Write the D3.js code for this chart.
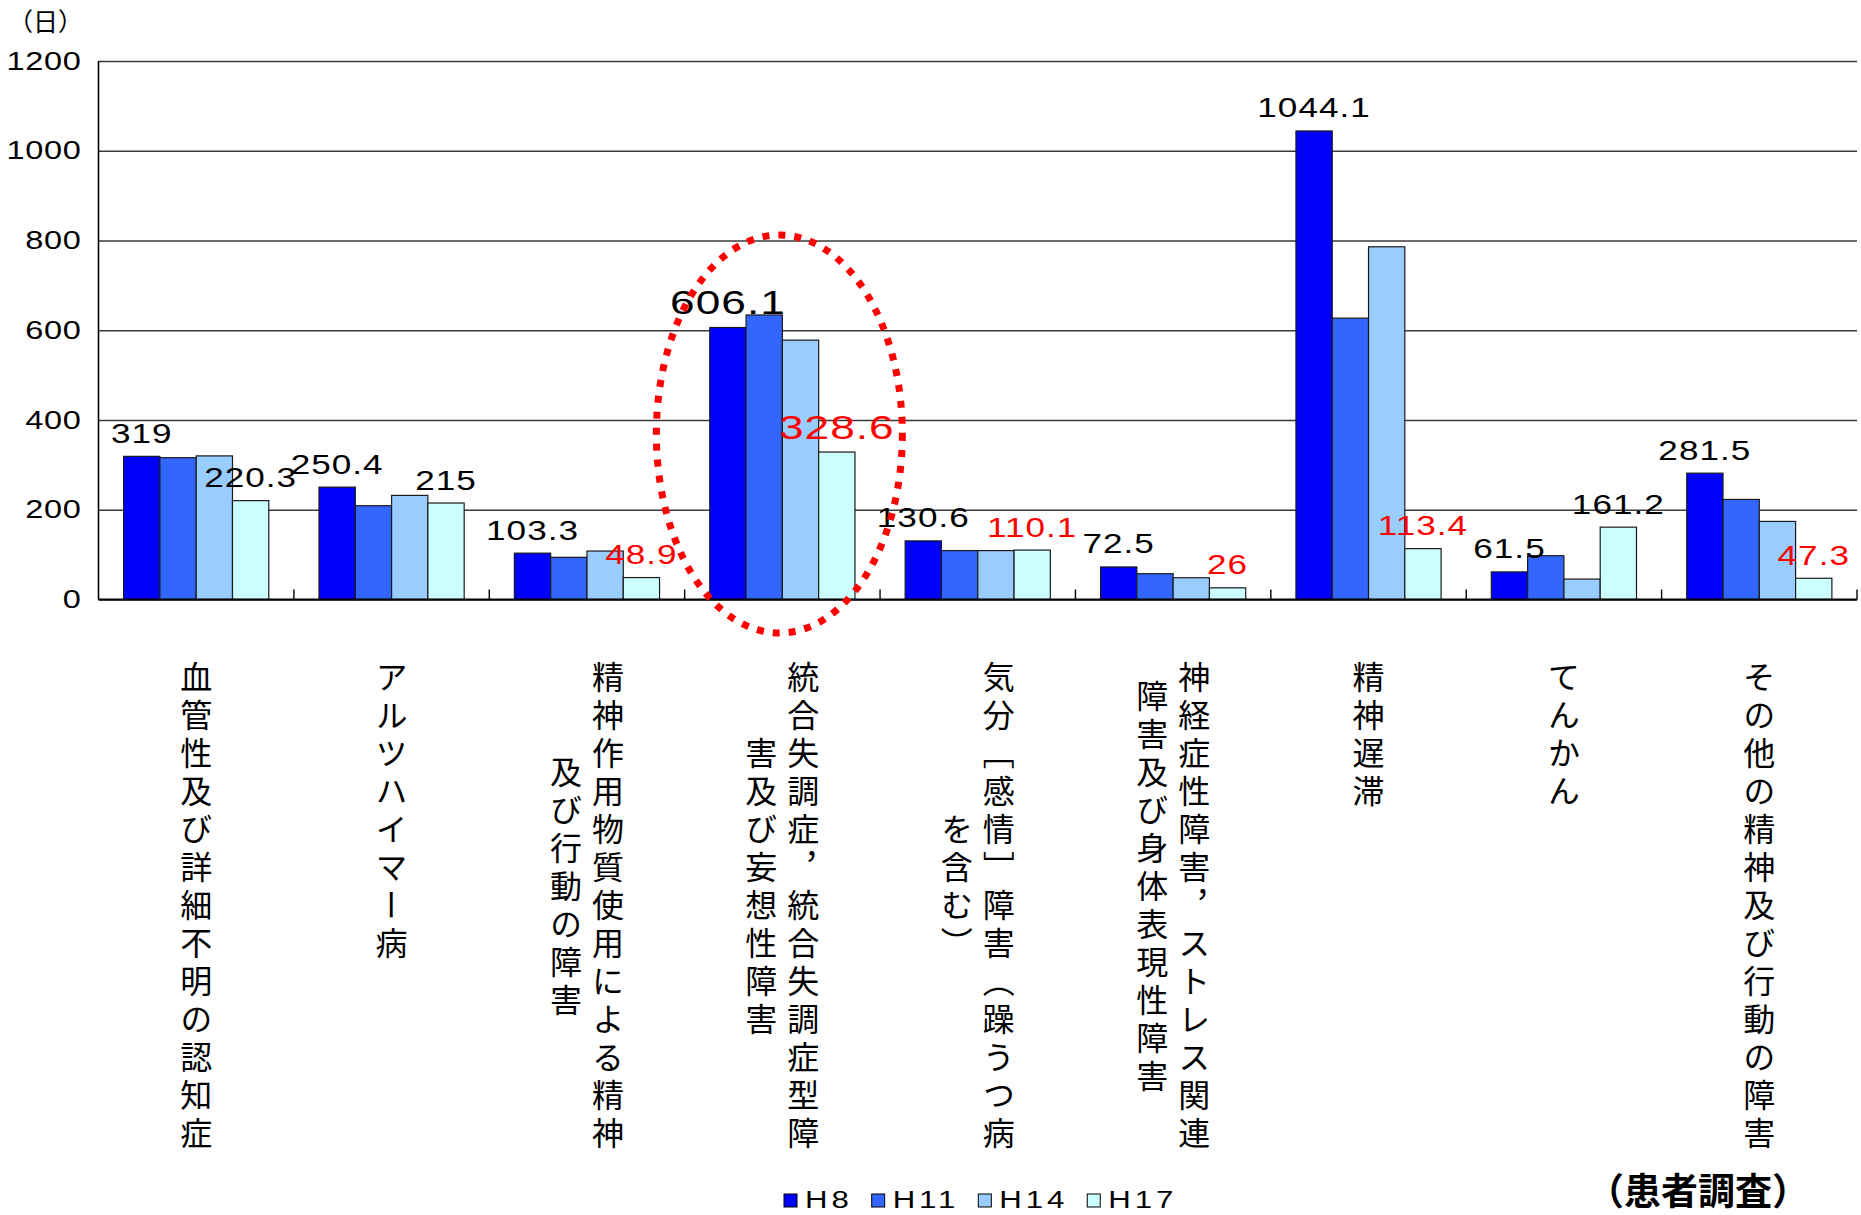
<!DOCTYPE html>
<html>
<head>
<meta charset="utf-8">
<script src="https://cdn.jsdelivr.net/npm/d3@7"></script>
<style>
  html, body { margin: 0; padding: 0; background: #fff; }
  svg { display: block; }
</style>
</head>
<body>
<svg id="chart" width="1861" height="1215"></svg>
<script>
// Average length of stay (days) by diagnosis, survey years H8–H17
const categoryLines = [
  ["血管性及び詳細不明の認知症"],
  ["アルツハイマー病"],
  ["精神作用物質使用による精神", "及び行動の障害"],
  ["統合失調症，統合失調症型障", "害及び妄想性障害"],
  ["気分［感情］障害（躁うつ病", "を含む）"],
  ["神経症性障害，ストレス関連", "障害及び身体表現性障害"],
  ["精神遅滞"],
  ["てんかん"],
  ["その他の精神及び行動の障害"]
];
const categories = categoryLines.map(l => l.join(""));

const seriesNames = ["H8", "H11", "H14", "H17"];
const h8Values  = [319, 250.4, 103.3, 606.1, 130.6, 72.5, 1044.1, 61.5, 281.5];
const h11Values = [316, 209, 94, 634, 109, 57.5, 627, 97.5, 223];
const h14Values = [320, 232, 108, 578, 109, 48.5, 786, 45.5, 174];
const h17Values = [220.3, 215, 48.9, 328.6, 110.1, 26, 113.4, 161.2, 47.3];

const yTicks = [0, 200, 400, 600, 800, 1000, 1200];
const unitLabel = "（日）";
const sourceNote = "（患者調査）";

// categories whose H17 value label is highlighted in red
const highlightedH17 = [2, 3, 4, 5, 6, 8];
// category circled with a dotted ellipse
const circledCategory = 3;

const seriesValues = { H8: h8Values, H11: h11Values, H14: h14Values, H17: h17Values };
const seriesColors = { H8: "#0000FF", H11: "#3366FF", H14: "#99CCFF", H17: "#CCFFFF" };

const svg = d3.select("#chart");
const plotLeft = 98.5, plotRight = 1857, plotTop = 61, plotBottom = 599.5;
const numFont = "'Liberation Sans', Arial, sans-serif";
const cjkFont = "'Noto Sans CJK JP', 'Noto Sans CJK SC', sans-serif";
const stretch = 1.3;   // wide numeric glyphs

const y = d3.scaleLinear().domain([0, 1200]).range([plotBottom, plotTop]);
const x0 = d3.scaleBand()
  .domain(d3.range(categories.length))
  .range([plotLeft, plotRight])
  .paddingInner(0.257)
  .paddingOuter(0.1285);
const x1 = d3.scaleBand().domain(seriesNames).range([0, x0.bandwidth()]);

// Gridlines and y tick labels
const tickPad = 17;
svg.append("g")
  .attr("transform", `translate(${plotLeft},0)`)
  .call(d3.axisLeft(y).tickValues(yTicks).tickFormat(d3.format("d"))
    .tickSize(-(plotRight - plotLeft)).tickPadding(tickPad))
  .call(g => g.select(".domain").remove())
  .call(g => g.selectAll(".tick line").attr("stroke", "#3a3a3a").attr("stroke-width", 1.3))
  .call(g => g.selectAll(".tick text")
    .attr("x", -tickPad / stretch)
    .attr("transform", `scale(${stretch},1)`)
    .attr("fill", "#000")
    .style("font-family", numFont)
    .style("font-size", "25px")
    .style("letter-spacing", "0.5px"));

// Bars
const groups = svg.append("g").selectAll("g")
  .data(categories.map((c, i) => i))
  .join("g")
  .attr("transform", i => `translate(${x0(i)},0)`);

groups.selectAll("rect")
  .data(i => seriesNames.map(s => ({ s, v: seriesValues[s][i] })))
  .join("rect")
  .attr("x", d => x1(d.s))
  .attr("y", d => y(d.v))
  .attr("width", x1.bandwidth())
  .attr("height", d => y(0) - y(d.v))
  .attr("fill", d => seriesColors[d.s])
  .attr("stroke", "#1a1a1a")
  .attr("stroke-width", 1.2);

// Axis lines
svg.append("line")
  .attr("x1", plotLeft).attr("x2", plotRight)
  .attr("y1", y(0)).attr("y2", y(0))
  .attr("stroke", "#000").attr("stroke-width", 2);
svg.append("line")
  .attr("x1", plotLeft).attr("x2", plotLeft)
  .attr("y1", y(1200)).attr("y2", y(0))
  .attr("stroke", "#000").attr("stroke-width", 1.6);

// Category boundary ticks
const boundaries = d3.range(1, categories.length)
  .map(i => x0(i) - x0.step() * x0.paddingInner() / 2)
  .concat([plotRight]);
svg.append("g").selectAll("line")
  .data(boundaries)
  .join("line")
  .attr("x1", d => d).attr("x2", d => d)
  .attr("y1", y(0)).attr("y2", y(0) - 10)
  .attr("stroke", "#000").attr("stroke-width", 1.4);

// Value labels (H8 and H17)
const labelGap = 13.5;
const valueLabels = [];
categories.forEach((c, i) => {
  valueLabels.push({ i, s: "H8", v: h8Values[i], red: false });
  valueLabels.push({ i, s: "H17", v: h17Values[i], red: highlightedH17.includes(i) });
});
svg.append("g").selectAll("text")
  .data(valueLabels)
  .join("text")
  .attr("transform", d => {
    const cx = x0(d.i) + x1(d.s) + x1.bandwidth() / 2;
    return `translate(${cx},${y(d.v) - labelGap}) scale(${stretch},1)`;
  })
  .attr("text-anchor", "middle")
  .attr("fill", d => d.red ? "#FF0000" : "#000")
  .style("font-family", numFont)
  .style("font-size", d => d.i === circledCategory ? "34px" : "27px")
  .style("letter-spacing", "0.8px")
  .text(d => String(d.v));

// Dotted ellipse around the highlighted category
svg.append("ellipse")
  .attr("cx", x0(circledCategory) + x0.bandwidth() / 2 - 3)
  .attr("cy", 434)
  .attr("rx", 123)
  .attr("ry", 199)
  .attr("fill", "none")
  .attr("stroke", "#FF0000")
  .attr("stroke-width", 7)
  .attr("stroke-dasharray", "7 9");

// Vertical category labels
const labFont = 32, labSpacing = 6, labAdvance = labFont + labSpacing, colGap = 42;
const labelTop = 661;
const labelG = svg.append("g");
categoryLines.forEach((lines, i) => {
  const cx = x0(i) + x0.bandwidth() / 2;
  const n = lines.length;
  lines.forEach((line, j) => {
    const colX = cx + ((n - 1) / 2 - j) * colGap;
    const offset = j === 0 ? 0 : ((lines[0].length - line.length) / 2 - 0.5) * labAdvance;
    labelG.append("text")
      .attr("x", colX)
      .attr("y", labelTop + offset)
      .style("writing-mode", "vertical-rl")
      .style("font-family", cjkFont)
      .style("font-size", labFont + "px")
      .style("letter-spacing", labSpacing + "px")
      .attr("fill", "#000")
      .text(line);
  });
});

// Legend
const legend = svg.append("g");
let lx = 784;
const legendBase = 1208;
seriesNames.forEach(s => {
  legend.append("rect")
    .attr("x", lx).attr("y", legendBase - 14)
    .attr("width", 13).attr("height", 13)
    .attr("fill", seriesColors[s])
    .attr("stroke", "#000").attr("stroke-width", 1);
  const t = legend.append("text")
    .attr("transform", `translate(${lx + 21},${legendBase}) scale(${stretch},1)`)
    .style("font-family", numFont)
    .style("font-size", "24px")
    .style("letter-spacing", "3px")
    .attr("fill", "#000")
    .text(s);
  lx += 21 + t.node().getComputedTextLength() * stretch + 19;
});

// Unit and source notes
svg.append("text")
  .attr("x", 8).attr("y", 31)
  .style("font-family", cjkFont)
  .style("font-size", "25px")
  .attr("fill", "#000")
  .text(unitLabel);

svg.append("text")
  .attr("x", 1587).attr("y", 1205)
  .style("font-family", cjkFont)
  .style("font-size", "37px")
  .style("font-weight", 600)
  .attr("fill", "#000")
  .text(sourceNote);
</script>
</body>
</html>
